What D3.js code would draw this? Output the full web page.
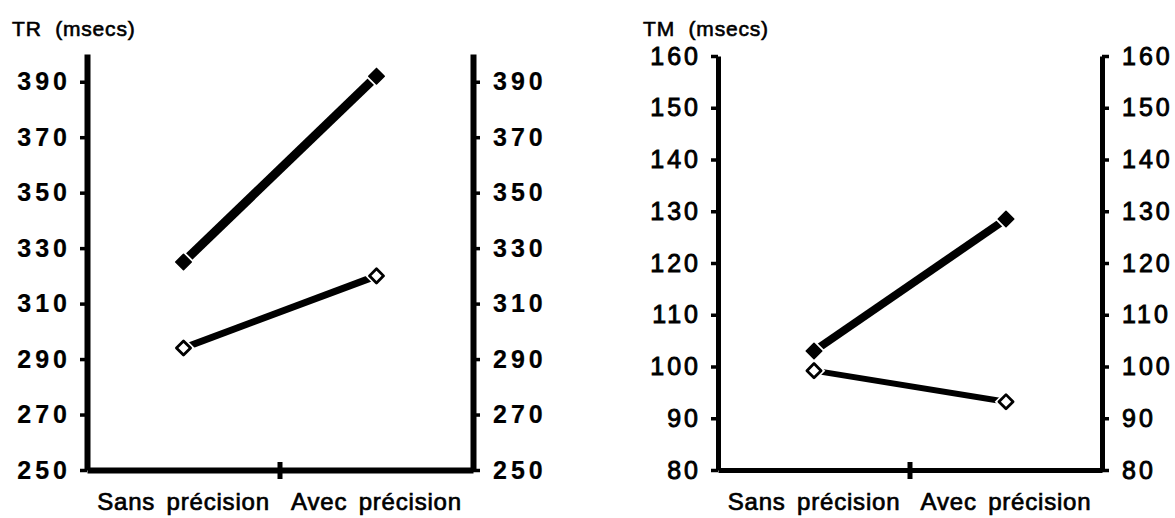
<!DOCTYPE html>
<html>
<head>
<meta charset="utf-8">
<script src="https://cdn.jsdelivr.net/npm/d3@7"></script>
<style>
  body { margin: 0; background: #fff; }
  svg { display: block; font-family: "Liberation Sans", Arial, Helvetica, sans-serif; }
</style>
</head>
<body>
<div id="chart"></div>
<script>
    // values
    var categories = ['Sans précision', 'Avec précision'];

    var trTicks = [250, 270, 290, 310, 330, 350, 370, 390];
    var trFilled = [325, 392];
    var trOpen = [294, 320];

    var tmTicks = [80, 90, 100, 110, 120, 130, 140, 150, 160];
    var tmFilled = [103, 128.5];
    var tmOpen = [99.2, 93.2];

    var width = 1175;
    var height = 518;
    var baseY = 470;

    var panels = [
        { title: 'TR (msecs)', ticks: trTicks, domain: [250, 400], filled: trFilled, open: trOpen,
          left: 87, right: 473, top: 54, weight: 'bold', thick: 0.2, axisWidth: 6, lineWidth: [9, 7], ls: 4 },
        { title: 'TM (msecs)', ticks: tmTicks, domain: [80, 160], filled: tmFilled, open: tmOpen,
          left: 718, right: 1102, top: 56, weight: 'normal', thick: 0.9, axisWidth: 5, lineWidth: [8, 6], ls: 3 }
    ];

    var svg = d3.select('#chart')
        .append('svg')
        .attr('width', width)
        .attr('height', height);

    var diamond = function(side) {
        return d3.symbol().type(d3.symbolSquare).size(side * side)();
    };

    panels.forEach(function(p) {
        var g = svg.append('g');

        var x = d3.scaleBand().domain(categories).range([p.left, p.right]);
        var y = d3.scaleLinear().domain(p.domain).range([baseY, p.top]);
        var cx = function(i) { return x(categories[i]) + x.bandwidth() / 2; };

        // title
        g.append('text')
            .attr('x', p.left - 75)
            .attr('y', 36)
            .attr('font-size', 21)
            .attr('letter-spacing', 0.8)
            .attr('word-spacing', 7)
            .attr('stroke', '#000')
            .attr('stroke-width', 0.6)
            .text(p.title);

        // left and right value axes
        var leftAxis = g.append('g')
            .attr('transform', 'translate(' + p.left + ',0)')
            .call(d3.axisLeft(y).tickValues(p.ticks).tickSize(7).tickSizeOuter(0).tickPadding(13 - p.ls));
        var rightAxis = g.append('g')
            .attr('transform', 'translate(' + p.right + ',0)')
            .call(d3.axisRight(y).tickValues(p.ticks).tickSize(7).tickSizeOuter(0).tickPadding(13));

        [leftAxis, rightAxis].forEach(function(a) {
            a.select('.domain').attr('stroke-width', p.axisWidth);
            a.selectAll('.tick line').attr('stroke-width', 3.5);
            a.selectAll('.tick text')
                .attr('font-size', 25)
                .attr('font-weight', p.weight)
                .attr('letter-spacing', p.ls)
                .attr('fill', '#000')
                .attr('stroke', '#000')
                .attr('stroke-width', p.thick);
            a.attr('font-family', null);
        });

        // category axis
        var xAxis = g.append('g')
            .attr('transform', 'translate(0,' + baseY + ')')
            .call(d3.axisBottom(x).tickSize(0).tickSizeOuter(0).tickPadding(23));
        xAxis.select('.domain').attr('stroke-width', p.axisWidth);
        xAxis.selectAll('.tick text')
            .attr('font-size', 24)
            .attr('letter-spacing', 0.8)
            .attr('word-spacing', 4)
            .attr('fill', '#000')
            .attr('stroke', '#000')
            .attr('stroke-width', 0.7);
        xAxis.attr('font-family', null);

        // tick between the two categories
        g.append('line')
            .attr('x1', x(categories[1])).attr('x2', x(categories[1]))
            .attr('y1', baseY - 8).attr('y2', baseY + 9)
            .attr('stroke', '#000')
            .attr('stroke-width', 5);

        var line = d3.line()
            .x(function(d, i) { return cx(i); })
            .y(function(d) { return y(d); });

        // open series
        g.append('path')
            .datum(p.open)
            .attr('d', line)
            .attr('fill', 'none')
            .attr('stroke', '#000')
            .attr('stroke-width', p.lineWidth[1]);

        // filled series
        g.append('path')
            .datum(p.filled)
            .attr('d', line)
            .attr('fill', 'none')
            .attr('stroke', '#000')
            .attr('stroke-width', p.lineWidth[0]);

        // open markers
        p.open.forEach(function(v, i) {
            g.append('path')
                .attr('d', diamond(16))
                .attr('transform', 'translate(' + cx(i) + ',' + y(v) + ') rotate(45)')
                .attr('fill', '#fff');
            g.append('path')
                .attr('d', diamond(10))
                .attr('transform', 'translate(' + cx(i) + ',' + y(v) + ') rotate(45)')
                .attr('fill', '#fff')
                .attr('stroke', '#000')
                .attr('stroke-width', 2.8)
                .attr('stroke-linejoin', 'round');
        });

        // filled markers
        p.filled.forEach(function(v, i) {
            g.append('path')
                .attr('d', diamond(16))
                .attr('transform', 'translate(' + cx(i) + ',' + y(v) + ') rotate(45)')
                .attr('fill', '#fff');
            g.append('path')
                .attr('d', diamond(11))
                .attr('transform', 'translate(' + cx(i) + ',' + y(v) + ') rotate(45)')
                .attr('fill', '#000')
                .attr('stroke', '#000')
                .attr('stroke-width', 1.5)
                .attr('stroke-linejoin', 'round');
        });
    });
</script>
</body>
</html>
